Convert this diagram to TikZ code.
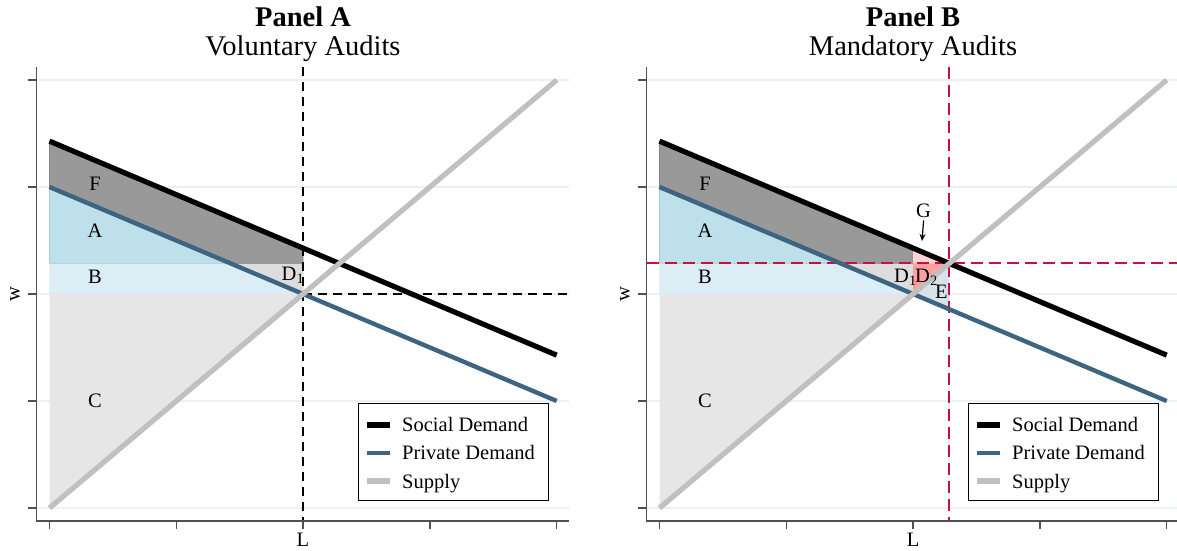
\documentclass[tikz,border=0pt]{standalone}
\usepackage{fontspec}
\setmainfont{Liberation Serif}
\usetikzlibrary{arrows.meta}
\definecolor{privblue}{HTML}{3D6480}
\definecolor{supgray}{HTML}{C0C0C0}
\definecolor{fgray}{HTML}{999999}
\definecolor{ablue}{HTML}{BEE0EA}
\definecolor{bblue}{HTML}{DBEEF5}
\definecolor{cgray}{HTML}{E6E6E6}
\definecolor{dgray}{HTML}{DDDDDD}
\definecolor{gpink}{HTML}{FFD3D3}
\definecolor{dpink}{HTML}{FFA0A0}
\definecolor{eblue}{HTML}{D8E2EA}
\definecolor{mandred}{HTML}{C8103E}
\definecolor{gridc}{HTML}{EAF2F3}
\definecolor{axisc}{HTML}{505050}
\tikzset{
 panel/.style={shift={(#1+49.5pt,-508pt)}, x=126.8pt, y=107pt},
 socline/.style={line width=5.2pt, black},
 privline/.style={line width=4.4pt, privblue},
 supline/.style={line width=5.2pt, supgray},
 gridline/.style={line width=1.5pt, gridc},
 axisline/.style={line width=1.3pt, axisc},
 vdash/.style={line width=1.4pt, black, dash pattern=on 9pt off 6pt},
 rdash/.style={line width=2pt, mandred, dash pattern=on 12pt off 6pt},
 lbl/.style={font=\fontsize{20.5}{24}\selectfont, inner sep=0pt},
 ttl/.style={font=\fontsize{28.5}{32}\selectfont, inner sep=0pt, anchor=base},
 legbox/.style={draw=black, line width=1pt, fill=white, minimum width=190pt, minimum height=97pt, inner sep=0pt},
 legtext/.style={font=\fontsize{20.5}{24}\selectfont, inner sep=0pt, anchor=base west},
 areaF/.style={fill=fgray, draw=fgray!85!black, line width=0.6pt},
 areaA/.style={fill=ablue, draw=ablue!90!black, line width=0.6pt},
 areaB/.style={fill=bblue, draw=bblue!95!black, line width=0.4pt},
 areaC/.style={fill=cgray},
 areaD/.style={fill=dgray, draw=dgray!95!black, line width=0.4pt},
}
\newcommand\commonpart{%
 \foreach \k in {0,...,4} \draw[gridline] (-0.101,\k) -- (4.1,\k);
 \fill[areaC] (0,2) -- (2,2) -- (0,0) -- cycle;
 \filldraw[areaB] (0,16/7) -- (10/7,16/7) -- (2,2) -- (0,2) -- cycle;
 \filldraw[areaA] (0,3) -- (10/7,16/7) -- (0,16/7) -- cycle;
 \filldraw[areaD] (10/7,16/7) -- (2,16/7) -- (2,2) -- cycle;
 \filldraw[areaF] (0,24/7) -- (2,17/7) -- (2,16/7) -- (10/7,16/7) -- (0,3) -- cycle;
}
\newcommand\curves[1]{%
 \coordinate (soc0#1) at (0,24/7); \coordinate (soc4#1) at (4,10/7);
 \coordinate (pri0#1) at (0,3); \coordinate (pri4#1) at (4,1);
 \coordinate (sup0#1) at (0,0); \coordinate (sup4#1) at (4,4);
 \draw[socline] (soc0#1) -- (soc4#1);
 \draw[privline] (pri0#1) -- (pri4#1);
 \draw[supline] (sup0#1) -- (sup4#1);
 \draw[axisline] (-0.101,4.1215) -- (-0.101,-0.1215) -- (4.1,-0.1215);
 \foreach \k in {0,...,4} \draw[axisline] (-0.101,\k) -- ++(-9pt,0);
 \foreach \k in {0,...,4} \draw[axisline] (\k,-0.1215) -- ++(0,-8pt);
}
\newcommand\legend[2]{%
 \node[legbox] (leg#1) at (#2+453.5pt,-452pt) {};
 \coordinate (la1#1) at (#2+367pt,-425pt); \coordinate (lb1#1) at (#2+390pt,-425pt);
 \coordinate (la2#1) at (#2+367pt,-453pt); \coordinate (lb2#1) at (#2+390pt,-453pt);
 \coordinate (la3#1) at (#2+367pt,-481pt); \coordinate (lb3#1) at (#2+390pt,-481pt);
 \draw[socline] (la1#1) -- (lb1#1);
 \draw[privline] (la2#1) -- (lb2#1);
 \draw[supline] (la3#1) -- (lb3#1);
 \node[legtext] (lt1#1) at (#2+402pt,-431pt) {Social Demand};
 \node[legtext] (lt2#1) at (#2+402pt,-459pt) {Private Demand};
 \node[legtext] (lt3#1) at (#2+402pt,-488pt) {Supply};
}
\begin{document}
\begin{tikzpicture}[x=1pt,y=1pt]
\useasboundingbox (0,-551) rectangle (1177,0);
\fill[white] (0,-551) rectangle (1177,0);
% ---------------- Panel A
\begin{scope}[panel=0pt]
 \commonpart
 \coordinate (vtopA) at (2,4.1215); \coordinate (vbotA) at (2,-0.1215);
 \coordinate (hlA) at (2,2); \coordinate (hrA) at (4.08,2);
 \draw[vdash] (vtopA) -- (vbotA);
 \draw[vdash] (hlA) -- (hrA);
 \curves{A}
\end{scope}
% ---------------- Panel B
\begin{scope}[panel=610pt]
 \commonpart
 \fill[gpink] (2,17/7) -- (16/7,16/7) -- (2,16/7) -- cycle;
 \fill[dpink] (2,16/7) -- (16/7,16/7) -- (2,2) -- cycle;
 \fill[eblue] (2,2) -- (16/7,16/7) -- (16/7,13/7) -- cycle;
 \coordinate (vtopB) at (16/7,4.1215); \coordinate (vbotB) at (16/7,-0.1215);
 \coordinate (hlB) at (-0.101,16/7); \coordinate (hrB) at (4.1,16/7);
 \draw[rdash] (vtopB) -- (vbotB);
 \draw[rdash] (hlB) -- (hrB);
 \curves{B}
\end{scope}
% ---------------- legends
\legend{A}{0pt}
\legend{B}{610pt}
% ---------------- labels panel A
\node[ttl, font=\fontsize{28.5}{32}\selectfont\bfseries] (tA) at (303,-27) {Panel A};
\node[ttl] (sA) at (303,-56) {Voluntary Audits};
\node[lbl] (FA) at (95,-184) {F};
\node[lbl] (AA) at (95,-231) {A};
\node[lbl] (BA) at (95,-277) {B};
\node[lbl] (CA) at (95,-401) {C};
\node[lbl, anchor=base west] (DA) at (281.5,-280) {D\textsubscript{1}};
\node[lbl, rotate=90] (wA) at (15,-294) {w};
\node[lbl] (LA) at (303,-540) {L};
% ---------------- labels panel B
\node[ttl, font=\fontsize{28.5}{32}\selectfont\bfseries] (tB) at (913,-27) {Panel B};
\node[ttl] (sB) at (913,-56) {Mandatory Audits};
\node[lbl] (FB) at (705,-184) {F};
\node[lbl] (AB) at (705,-231) {A};
\node[lbl] (BB) at (705,-277) {B};
\node[lbl] (CB) at (705,-401) {C};
\node[lbl, anchor=base west] (D1B) at (894,-282) {D\textsubscript{1}};
\node[lbl, anchor=base west] (D2B) at (915,-282) {D\textsubscript{2}};
\node[lbl, anchor=base west] (EB) at (935,-298) {E};
\node[lbl, anchor=base west] (GB) at (916,-217) {G};
\coordinate (GtipB) at (922,-241);
\draw[line width=1.2pt, -{Stealth[length=7pt,width=6pt]}] ([yshift=-3pt]GB.south) -- (GtipB);
\node[lbl, rotate=90] (wB) at (625,-294) {w};
\node[lbl] (LB) at (913,-540) {L};
\end{tikzpicture}
\end{document}
